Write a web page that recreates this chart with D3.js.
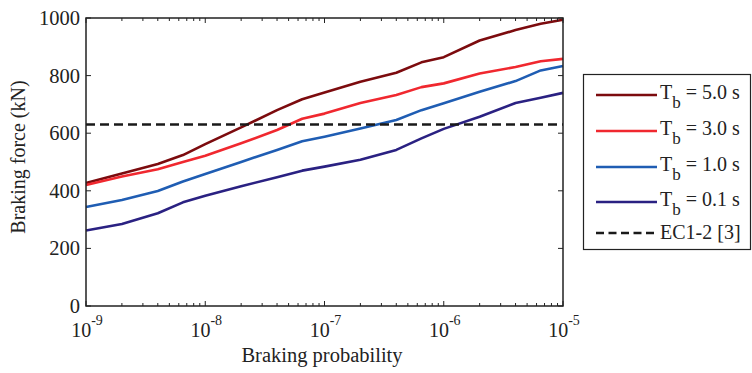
<!DOCTYPE html>
<html>
<head>
<meta charset="utf-8">
<script src="https://cdn.jsdelivr.net/npm/d3@7"></script>
<style>
  body { margin: 0; background: #fff; }
  text { font-family: "Liberation Serif", "DejaVu Serif", serif; fill: #222; }
</style>
</head>
<body>
<svg id="chart" width="752" height="373"></svg>
<script>
// braking probability nodes
const probs = [1e-9, 2e-9, 4e-9, 6.5e-9, 1e-8, 2e-8, 4e-8, 6.5e-8, 1e-7, 2e-7, 4e-7, 6.5e-7, 1e-6, 2e-6, 4e-6, 6.5e-6, 1e-5];

// braking force (kN) per braking time
const tb50 = [427, 460, 493, 524, 562, 620, 680, 718, 741, 779, 810, 846, 864, 922, 958, 980, 994];
const tb30 = [420, 450, 475, 500, 522, 565, 611, 650, 668, 705, 733, 760, 773, 807, 830, 850, 858];
const tb10 = [344, 368, 399, 432, 458, 500, 542, 572, 588, 616, 646, 680, 704, 744, 781, 818, 833];
const tb01 = [262, 285, 322, 360, 383, 416, 447, 470, 484, 508, 542, 582, 615, 657, 705, 723, 740];
const ecValue = 630;

const seriesNames = ["5.0", "3.0", "1.0", "0.1"];
const seriesColors = ["#7c0b0e", "#f0282f", "#1f5db3", "#2a2182"];
const yTicks = [0, 200, 400, 600, 800, 1000];
const xDecades = [1e-9, 1e-8, 1e-7, 1e-6, 1e-5];

const svg = d3.select("#chart");
const pL = 86, pR = 563, pT = 18, pB = 306;

const x = d3.scaleLog().domain([1e-9, 1e-5]).range([pL, pR]);
const y = d3.scaleLinear().domain([0, 1000]).range([pB, pT]);

const line = d3.line()
  .x((d, i) => x(probs[i]))
  .y(d => y(d));

const allSeries = [tb50, tb30, tb10, tb01];

// data lines
allSeries.forEach((s, k) => {
  svg.append("path")
    .attr("d", line(s))
    .attr("fill", "none")
    .attr("stroke", seriesColors[k])
    .attr("stroke-width", 2.6)
    .attr("stroke-linejoin", "round");
});

// EC1-2 line
svg.append("line")
  .attr("x1", x(1e-9)).attr("x2", x(1e-5))
  .attr("y1", y(ecValue)).attr("y2", y(ecValue))
  .attr("stroke", "#1a1a1a")
  .attr("stroke-width", 2.6)
  .attr("stroke-dasharray", "9,5");

// minor ticks (log)
const minor = [];
for (let e = -9; e < -5; e++) {
  for (let m = 2; m <= 9; m++) minor.push(m * Math.pow(10, e));
}

const ax = svg.append("g").attr("stroke", "#222").attr("stroke-width", 1);
minor.forEach(v => {
  ax.append("line").attr("x1", x(v)).attr("x2", x(v)).attr("y1", pB).attr("y2", pB - 3);
  ax.append("line").attr("x1", x(v)).attr("x2", x(v)).attr("y1", pT).attr("y2", pT + 3);
});
xDecades.forEach(v => {
  ax.append("line").attr("x1", x(v)).attr("x2", x(v)).attr("y1", pB).attr("y2", pB - 5);
  ax.append("line").attr("x1", x(v)).attr("x2", x(v)).attr("y1", pT).attr("y2", pT + 5);
});
yTicks.forEach(v => {
  ax.append("line").attr("x1", pL).attr("x2", pL + 5).attr("y1", y(v)).attr("y2", y(v));
  ax.append("line").attr("x1", pR).attr("x2", pR - 5).attr("y1", y(v)).attr("y2", y(v));
});

// box
svg.append("rect")
  .attr("x", pL).attr("y", pT)
  .attr("width", pR - pL).attr("height", pB - pT)
  .attr("fill", "none").attr("stroke", "#222").attr("stroke-width", 1.5);

// y tick labels
svg.selectAll(".ylab").data(yTicks).enter().append("text")
  .attr("x", pL - 6)
  .attr("y", d => y(d) + 7)
  .attr("text-anchor", "end")
  .attr("font-size", 20.5)
  .text(d => d);

// x tick labels 10^n
xDecades.forEach(v => {
  const t = svg.append("text")
    .attr("x", x(v) + 1)
    .attr("y", 337)
    .attr("text-anchor", "middle")
    .attr("font-size", 20);
  t.append("tspan").text("10");
  t.append("tspan").attr("dy", -12).attr("font-size", 14).text(Math.round(Math.log10(v)));
});

// axis titles
svg.append("text")
  .attr("x", 322)
  .attr("y", 362)
  .attr("text-anchor", "middle")
  .attr("font-size", 20.5)
  .text("Braking probability");

svg.append("text")
  .attr("transform", "translate(25,157) rotate(-90)")
  .attr("text-anchor", "middle")
  .attr("font-size", 20)
  .text("Braking force (kN)");

// legend
const lg = svg.append("g");
lg.append("rect")
  .attr("x", 583.5).attr("y", 74.5)
  .attr("width", 167).attr("height", 175)
  .attr("fill", "#fff").attr("stroke", "#222").attr("stroke-width", 1.2);

const legendY = [95, 131, 167, 202];
seriesNames.forEach((n, k) => {
  lg.append("line")
    .attr("x1", 596).attr("x2", 657)
    .attr("y1", legendY[k]).attr("y2", legendY[k])
    .attr("stroke", seriesColors[k]).attr("stroke-width", 2.6);
  const t = lg.append("text")
    .attr("x", 660).attr("y", legendY[k] + 4)
    .attr("font-size", 20);
  t.append("tspan").text("T");
  t.append("tspan").attr("dy", 9).attr("font-size", 17).text("b");
  t.append("tspan").attr("dy", -9).text(" = " + n + " s");
});
lg.append("line")
  .attr("x1", 596).attr("x2", 657)
  .attr("y1", 233).attr("y2", 233)
  .attr("stroke", "#1a1a1a").attr("stroke-width", 2.6)
  .attr("stroke-dasharray", "8,4.5");
lg.append("text")
  .attr("x", 660).attr("y", 239)
  .attr("font-size", 20)
  .text("EC1-2 [3]");
</script>
</body>
</html>
